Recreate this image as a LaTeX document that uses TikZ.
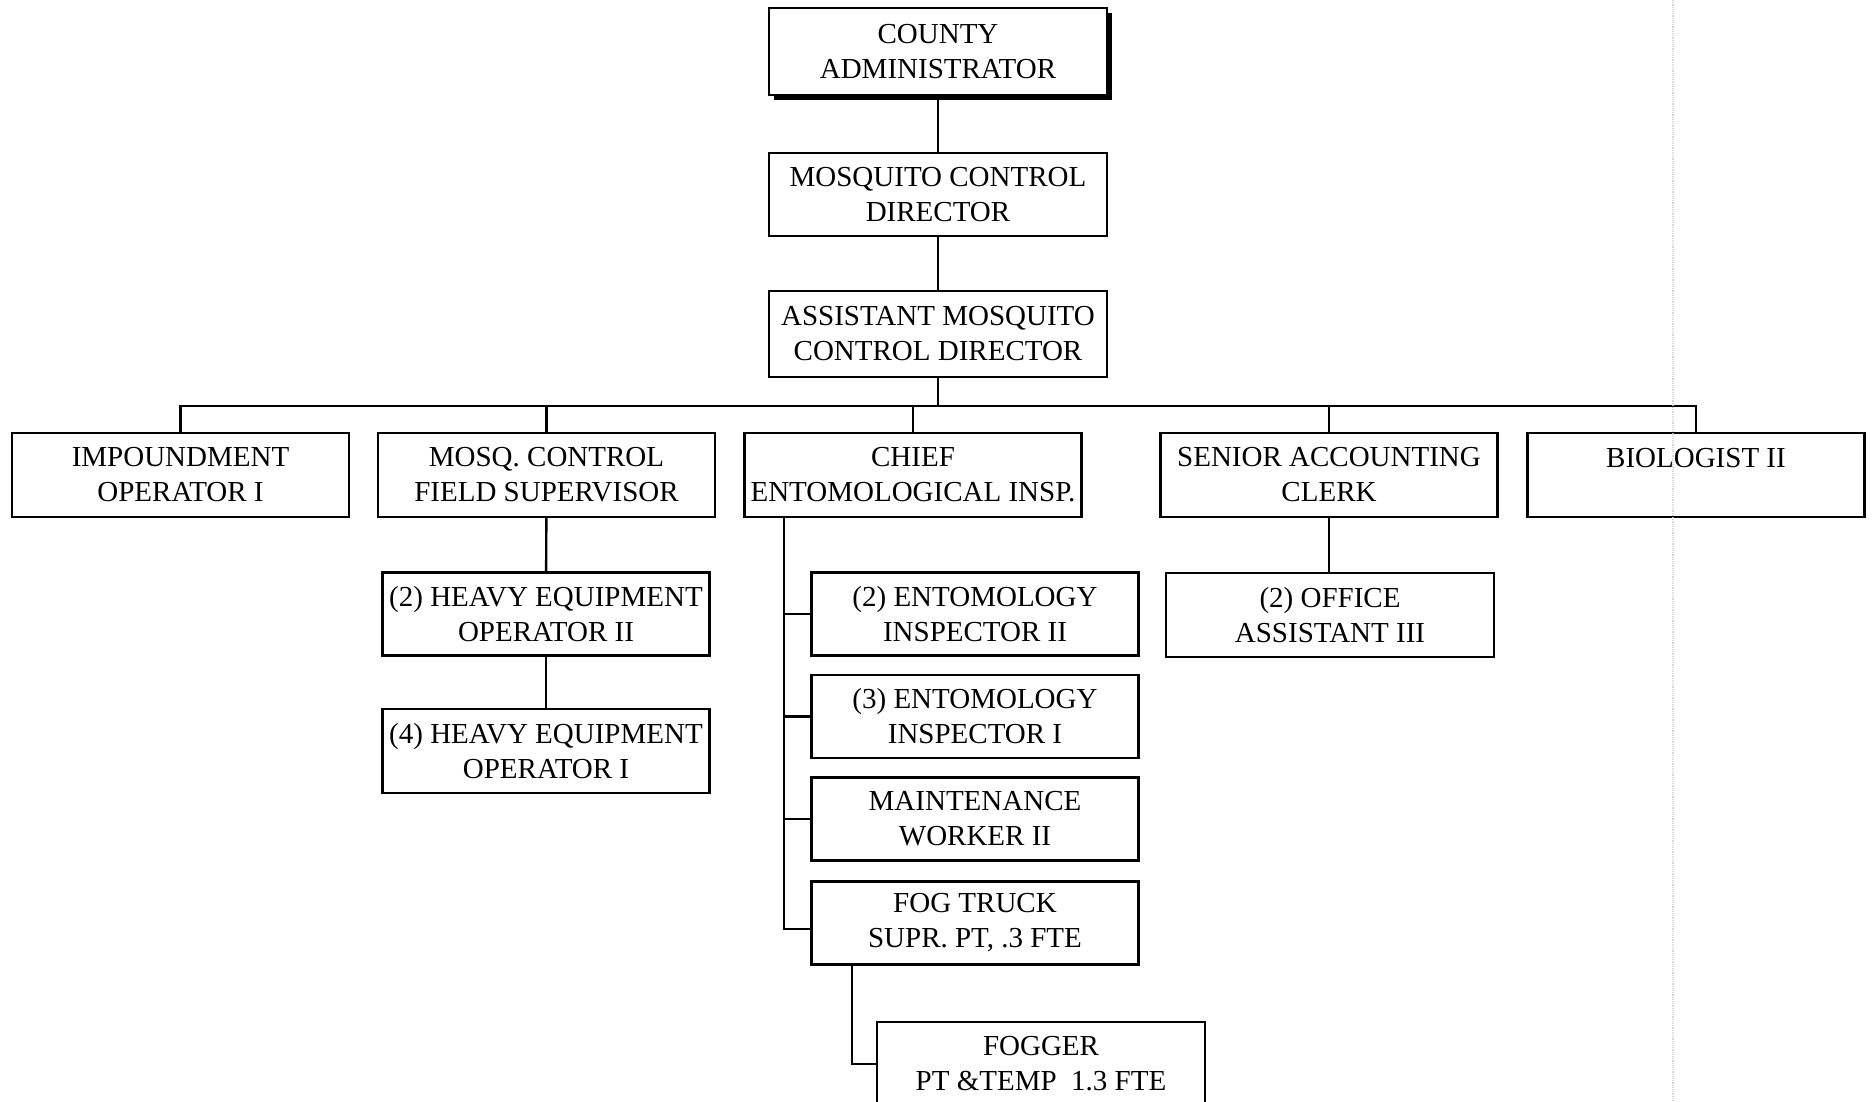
\documentclass[tikz,border=0pt]{standalone}
\usepackage{fontspec}
\setmainfont{Liberation Serif}
\begin{document}
\begin{tikzpicture}[x=1pt,y=-1pt,
  box/.style={draw=black, line width=2.4pt, fill=white, rectangle, align=center,
    inner sep=0pt, font=\fontsize{29}{35}\selectfont},
  topbox/.style={box, minimum width=338pt, minimum height=85pt},
  rowbox/.style={box, minimum width=337pt, minimum height=84pt},
  subbox/.style={box, minimum width=327pt, minimum height=83pt},
  link/.style={draw=black, line width=2.4pt}]

\useasboundingbox (0,0) rectangle (1872,1102);
\fill[white] (0,0) rectangle (1872,1102);

% head of the chart
\fill[black] (774,13) rectangle (1112,100);
\node[topbox, minimum height=87pt] (county) at (938,51.5) {COUNTY\\ADMINISTRATOR};
\node[topbox, minimum height=83pt] (mcd) at (938,194.5) {MOSQUITO CONTROL\\DIRECTOR};
\node[topbox, minimum height=86pt] (amcd) at (938,334) {ASSISTANT MOSQUITO\\CONTROL DIRECTOR};

% second tier
\node[rowbox] (imp) at (180.5,475) {IMPOUNDMENT\\OPERATOR I};
\node[rowbox] (fs) at (546.5,475) {MOSQ. CONTROL\\FIELD SUPERVISOR};
\node[rowbox] (chief) at (913,475) {CHIEF\\ENTOMOLOGICAL INSP.};
\node[rowbox] (sac) at (1329,475) {SENIOR ACCOUNTING\\CLERK};
\node[rowbox] (bio) at (1696,475) {BIOLOGIST II\\\mbox{}};

% field supervisor staff
\node[subbox] (he2) at (546,614) {(2) HEAVY EQUIPMENT\\OPERATOR II};
\node[subbox, minimum height=84pt] (he1) at (546,751) {(4) HEAVY EQUIPMENT\\OPERATOR I};

% entomology staff
\node[subbox] (ei2) at (975,614) {(2) ENTOMOLOGY\\INSPECTOR II};
\node[subbox] (ei1) at (975,716.5) {(3) ENTOMOLOGY\\INSPECTOR I};
\node[subbox] (mw) at (975,819) {MAINTENANCE\\WORKER II};
\node[subbox] (ft) at (975,923) {FOG TRUCK\\SUPR. PT, .3 FTE};
\node[subbox, minimum width=328pt, minimum height=84pt] (fog) at (1041,1064) {FOGGER\\PT \&TEMP\ \ 1.3 FTE};

% office staff
\node[subbox, minimum width=328pt, minimum height=84pt] (oa) at (1330,615) {(2) OFFICE\\ASSISTANT III};

% vertical chain
\draw[link] (county) -- (mcd);
\draw[link] (mcd) -- (amcd);

% bus to second tier
\coordinate (bus) at (938,406);
\draw[link] (amcd.south) -- (bus);
\draw[link] (imp.north) -- (imp.north |- bus) -- (bio.north |- bus) -- (bio.north);
\foreach \n in {fs,chief,sac} \draw[link] (\n.north |- bus) -- (\n.north);

% field supervisor chain
\draw[link] (fs) -- (he2);
\draw[link] (he2) -- (he1);

% accounting chain
\draw[link] (sac.south) -- (oa.north -| sac.south);

% entomology trunk
\coordinate (trunk) at (784,475);
\coordinate (ftin) at ([yshift=-6pt]ft.west);
\draw[link] (trunk |- chief.south) -- (trunk |- ftin) -- (ftin);
\foreach \n in {ei2,ei1,mw} \draw[link] (trunk |- \n.west) -- (\n.west);

% fogger branch
\coordinate (fogdrop) at (852,965);
\draw[link] (fogdrop |- ft.south) -- (fogdrop |- fog.west) -- (fog.west);

% faint page crease over everything
\draw[gray!40, line width=1.2pt, densely dotted, opacity=0.8] (1673,0) -- (1673,1102);

\end{tikzpicture}
\end{document}
